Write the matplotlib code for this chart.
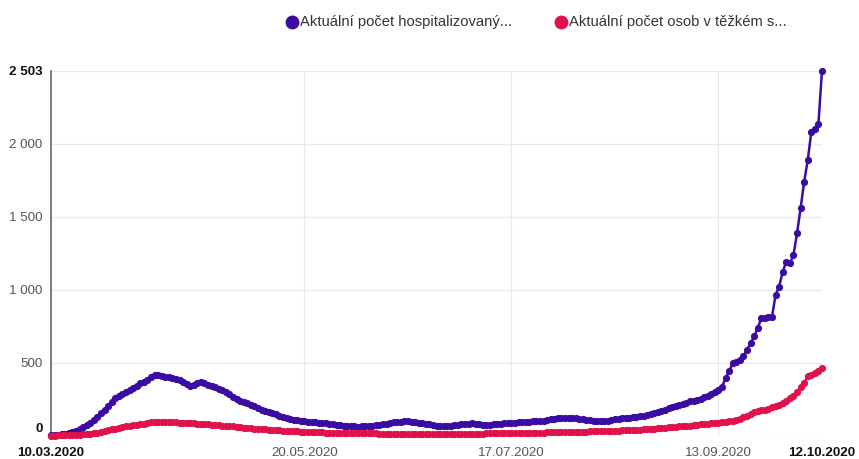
import matplotlib
matplotlib.use("Agg")
import matplotlib.pyplot as plt
import matplotlib.dates as mdates
from matplotlib.lines import Line2D
import pandas as pd

plt.rcParams['font.family'] = ['Liberation Sans', 'DejaVu Sans']

# daily values 10.03.2020 .. 12.10.2020
start = "2020-03-10"
end = "2020-10-12"

hospitalizovani = [
    2, 4, 6, 9, 12, 16, 24, 32, 42, 55,
    70, 88, 108, 130, 152, 178, 205, 232, 255, 270,
    285, 300, 315, 328, 342, 358, 370, 382, 398, 418,
    415, 410, 404, 400, 396, 388, 378, 366, 350, 338,
    348, 362, 368, 358, 348, 340, 332, 322, 312, 298,
    282, 265, 250, 238, 230, 222, 212, 200, 188, 178,
    170, 162, 154, 145, 136, 128, 120, 114, 108, 104,
    100, 97, 95, 92, 90, 88, 86, 84, 80, 76,
    72, 70, 67, 65, 63, 62, 61, 62, 64, 66,
    68, 70, 74, 78, 82, 86, 90, 94, 96, 98,
    98, 96, 92, 88, 84, 80, 76, 72, 68, 66,
    64, 65, 67, 70, 73, 76, 80, 82, 84, 82,
    78, 74, 72, 74, 78, 80, 82, 84, 86, 87,
    88, 90, 92, 95, 96, 98, 100, 98, 102, 106,
    110, 114, 117, 120, 121, 122, 121, 118, 115, 112,
    108, 104, 100, 98, 98, 99, 102, 106, 110, 114,
    118, 120, 123, 126, 129, 132, 136, 142, 148, 154,
    160, 166, 174, 186, 198, 205, 210, 218, 226, 234,
    240, 246, 252, 262, 274, 286, 300, 315, 335, 394,
    440, 497, 505, 515, 545, 588, 634, 679, 736, 805,
    808, 812, 816, 964, 1021, 1124, 1192, 1181, 1238, 1386,
    1557, 1739, 1888, 2081, 2104, 2139, 2503,
]

tezky_stav = [
    0, 0, 1, 1, 2, 2, 3, 4, 6, 8,
    10, 13, 16, 20, 25, 30, 36, 42, 47, 52,
    57, 62, 66, 70, 74, 78, 82, 86, 90, 94,
    93, 91, 90, 92, 93, 90, 88, 86, 85, 84,
    83, 82, 80, 78, 76, 74, 72, 70, 68, 66,
    64, 62, 60, 57, 54, 52, 50, 48, 46, 44,
    42, 40, 39, 37, 35, 34, 32, 31, 30, 28,
    27, 26, 25, 24, 23, 22, 21, 20, 19, 18,
    18, 17, 17, 16, 16, 15, 15, 15, 14, 14,
    14, 14, 13, 13, 13, 13, 12, 12, 12, 12,
    12, 12, 11, 11, 11, 11, 11, 10, 10, 10,
    10, 10, 10, 11, 11, 11, 12, 12, 12, 13,
    13, 13, 14, 14, 14, 15, 15, 15, 16, 16,
    16, 17, 17, 18, 18, 19, 19, 20, 20, 21,
    21, 22, 22, 23, 23, 24, 25, 25, 26, 27,
    27, 28, 28, 29, 30, 30, 31, 32, 33, 34,
    35, 36, 37, 38, 40, 41, 43, 44, 46, 48,
    50, 52, 54, 56, 58, 60, 62, 64, 66, 68,
    70, 73, 76, 79, 82, 84, 86, 89, 92, 95,
    98, 102, 108, 115, 124, 135, 148, 158, 166, 172,
    178, 185, 195, 204, 212, 222, 240, 260, 272, 300,
    330, 360, 405, 412, 428, 440, 466,
]

series_names = ["Aktuální počet hospitalizovaný...", "Aktuální počet osob v těžkém s..."]
colors = ["#3a0ca3", "#e0124b"]

y_ticks = [0, 500, 1000, 1500, 2000, 2503]
y_labels = ["0", "500", "1 000", "1 500", "2 000", "2 503"]
x_ticks = ["2020-03-10", "2020-05-20", "2020-07-17", "2020-09-13", "2020-10-12"]
x_labels = ["10.03.2020", "20.05.2020", "17.07.2020", "13.09.2020", "12.10.2020"]

dates = pd.date_range(start, end, freq="D")

fig = plt.figure(figsize=(8.59, 4.59), dpi=100)
ax = fig.add_axes([51 / 859, 1 - 435.5 / 459, 771 / 859, 365 / 459])

ax.plot(dates, hospitalizovani, color=colors[0], lw=1.8, marker="o", ms=5.2,
        markeredgewidth=0, clip_on=False, zorder=3)
ax.plot(dates, tezky_stav, color=colors[1], lw=1.8, marker="o", ms=5.2,
        markeredgewidth=0, clip_on=False, zorder=4)

ax.set_xlim(pd.Timestamp(start), pd.Timestamp(end))
ax.set_ylim(0, 2503)

ax.set_yticks(y_ticks)
ax.set_yticklabels(y_labels)
xt = [mdates.date2num(pd.Timestamp(d)) for d in x_ticks]
ax.set_xticks(xt)
ax.set_xticklabels(x_labels)

ax.tick_params(axis="both", length=0, labelsize=9.6, colors="#555555")
ax.tick_params(axis="y", pad=6)
ax.tick_params(axis="x", pad=8)
for i in (0, -1):
    ax.get_yticklabels()[i].set_fontweight("bold")
    ax.get_yticklabels()[i].set_color("#111111")
    ax.get_xticklabels()[i].set_fontweight("bold")
    ax.get_xticklabels()[i].set_color("#111111")
# lift the bold zero a little so it clears the first date label
ax.get_yticklabels()[0].set_va("bottom")

ax.grid(axis="y", color="#e8e8e8", lw=0.9)
ax.set_axisbelow(True)
for d in x_ticks[1:4]:
    ax.axvline(pd.Timestamp(d), color="#e8e8e8", lw=0.9, zorder=0)

for s in ["top", "right", "bottom"]:
    ax.spines[s].set_visible(False)
ax.spines["left"].set_color("#666666")
ax.spines["left"].set_linewidth(1.2)

# legend
leg_x = [292, 561]
for lx, name, c in zip(leg_x, series_names, colors):
    fig.add_artist(Line2D([lx / 859], [1 - 22 / 459], transform=fig.transFigure,
                          marker="o", ms=10, color=c, markeredgewidth=0))
    fig.text((lx + 8) / 859, 1 - 22 / 459, name, fontsize=10.6, color="#333333",
             va="center", ha="left")

fig.savefig("out.png", dpi=100)
